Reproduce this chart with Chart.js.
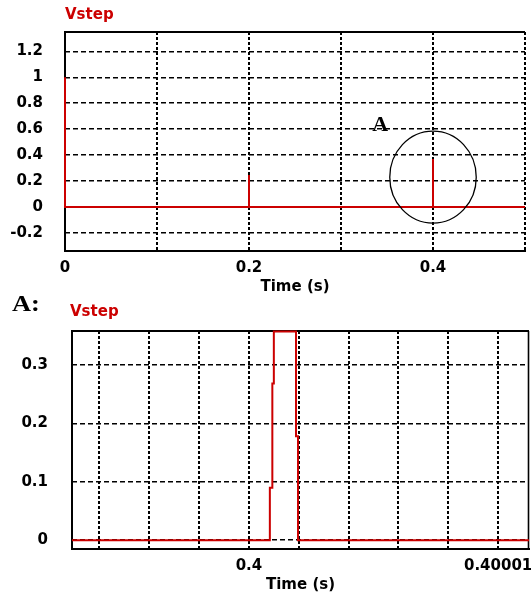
<!DOCTYPE html>
<html><head><meta charset="utf-8">
<script src="https://cdn.jsdelivr.net/npm/chart.js@4/dist/chart.umd.min.js"></script>
<style>
html,body{margin:0;padding:0;background:#fff;width:531px;height:594px;overflow:hidden}
#top{position:absolute;left:0;top:0}
#bot{position:absolute;left:0;top:296px}
</style></head><body>
<canvas id="top" width="531" height="296"></canvas>
<canvas id="bot" width="531" height="298"></canvas>
<script>
// ---- data ----
const seriesName = 'Vstep';
const xTitle = 'Time (s)';

const topTime  = [0, 0, 0.2, 0.2, 0.2, 0.4, 0.4, 0.4, 0.5];
const topVstep = [1, 0, 0, 0.247, 0, 0, 0.37, 0, 0];
const topYTicks  = [-0.2, 0, 0.2, 0.4, 0.6, 0.8, 1, 1.2];
const topYLabels = ['-0.2', '0', '0.2', '0.4', '0.6', '0.8', '1', '1.2'];
const topXTicks  = [0, 0.1, 0.2, 0.3, 0.4, 0.5];
const topXLabels = ['0', '', '0.2', '', '0.4', ''];

const zoomTime  = [0.3999929, 0.40000084, 0.40000084, 0.40000094, 0.40000094, 0.40000100, 0.40000100, 0.40000189, 0.40000189, 0.40000197, 0.40000197, 0.40001124];
const zoomVstep = [0, 0, 0.09, 0.09, 0.268, 0.268, 0.357, 0.357, 0.178, 0.178, 0, 0];
const zoomYTicks  = [0, 0.1, 0.2, 0.3];
const zoomYLabels = ['0', '0.1', '0.2', '0.3'];
const zoomXTicks  = [0.399994, 0.399996, 0.399998, 0.4, 0.400002, 0.400004, 0.400006, 0.400008, 0.40001];
const zoomXLabels = ['', '', '', '0.4', '', '', '', '', '0.40001'];

const calloutText = 'A';
const calloutTextAt = [0.334, 0.585];             // data coords (x, y) of text baseline
const calloutEllipse = [0.4, 0.23, 0.047, 0.355]; // cx, cy, rx, ry in data units
const zoomHeading = 'A:';

// ---- drawing ----
const RED = '#cc0000';
const FONT = {family: '"DejaVu Sans", Verdana, sans-serif', size: 15, weight: 'bold'};

const deco = {
  id: 'deco',
  beforeDatasetsDraw(chart, args, o) {
    const {ctx, chartArea: a} = chart;
    ctx.save();
    ctx.strokeStyle = '#000'; ctx.lineWidth = 2; ctx.setLineDash([]);
    ctx.beginPath();
    ctx.moveTo(Math.round(a.left), Math.round(a.bottom));
    ctx.lineTo(Math.round(a.left), Math.round(a.top));
    ctx.lineTo(a.right, Math.round(a.top));
    ctx.stroke();
    if (o.rightSolid) {
      ctx.lineWidth = 1.6;
      ctx.beginPath();
      ctx.moveTo(Math.round(a.right) - 0.5, a.top); ctx.lineTo(Math.round(a.right) - 0.5, a.bottom);
      ctx.stroke();
    }
    ctx.restore();
  },
  afterDraw(chart, args, o) {
    const {ctx, chartArea: a, scales: {x, y}} = chart;
    ctx.save();
    ctx.fillStyle = RED;
    ctx.font = 'bold 15px "DejaVu Sans", Verdana, sans-serif';
    ctx.textBaseline = 'alphabetic'; ctx.textAlign = 'left';
    ctx.fillText(o.title, a.left + o.titleDx, o.titleY);
    if (o.callout) {
      const [cx, cy, rx, ry] = o.callout.ellipse;
      const px = x.getPixelForValue(cx), py = y.getPixelForValue(cy);
      const prx = x.getPixelForValue(cx + rx) - px, pry = py - y.getPixelForValue(cy + ry);
      ctx.strokeStyle = '#000'; ctx.lineWidth = 1.3;
      ctx.beginPath(); ctx.ellipse(px, py, prx, pry, 0, 0, Math.PI * 2); ctx.stroke();
      ctx.fillStyle = '#000';
      ctx.font = 'bold 22px "Liberation Serif", "Times New Roman", serif';
      ctx.fillText(o.callout.text, x.getPixelForValue(o.callout.at[0]), y.getPixelForValue(o.callout.at[1]));
    }
    if (o.heading) {
      ctx.fillStyle = '#000';
      ctx.font = 'bold 23px "Liberation Serif", "Times New Roman", serif';
      ctx.translate(12, 15);
      ctx.scale(1.15, 1);
      ctx.fillText(o.heading, 0, 0);
    }
    ctx.restore();
  }
};

function makeChart(id, cfg) {
  const pts = cfg.t.map((t, i) => ({x: t, y: cfg.v[i]}));
  return new Chart(document.getElementById(id), {
    type: 'scatter',
    data: {datasets: [{
      label: seriesName, data: pts, showLine: true, borderColor: RED, backgroundColor: RED,
      borderWidth: 2, pointRadius: 0, tension: 0, fill: false, clip: 2
    }]},
    options: {
      responsive: false, animation: false, events: [],
      layout: {padding: {left: 0, right: cfg.padRight, top: cfg.padTop, bottom: 0}},
      plugins: {legend: {display: false}, tooltip: {enabled: false}, deco: cfg.deco},
      scales: {
        x: {
          type: 'linear', min: cfg.xMin, max: cfg.xMax,
          afterBuildTicks: s => { s.ticks = cfg.xTicks.map(v => ({value: v})); },
          afterFit: s => { s.height = 45; s.paddingLeft = 0; s.paddingRight = 0; },
          ticks: {font: FONT, color: '#000', padding: 8, maxRotation: 0, autoSkip: false,
                  callback: (v, i) => cfg.xLabels[i]},
          grid: {color: '#000', lineWidth: 2, drawTicks: false},
          border: {display: true, color: '#000', width: 2, dash: [3, 2]},
          title: {display: true, text: xTitle, font: FONT, color: '#000', padding: {top: 0, bottom: 0}}
        },
        y: {
          type: 'linear', min: cfg.yMin, max: cfg.yMax,
          afterBuildTicks: s => { s.ticks = cfg.yTicks.map(v => ({value: v})); },
          afterFit: s => { s.width = cfg.yWidth; s.paddingTop = 0; s.paddingBottom = 0; },
          ticks: {font: FONT, color: '#000', padding: cfg.yPad, autoSkip: false,
                  callback: (v, i) => cfg.yLabels[i]},
          grid: {color: '#000', lineWidth: 1.6, drawTicks: false},
          border: {display: false, color: '#000', width: 2, dash: [5, 3]}
        }
      }
    },
    plugins: [deco]
  });
}

makeChart('top', {
  t: topTime, v: topVstep, xMin: 0, xMax: 0.5, yMin: -0.34, yMax: 1.35,
  xTicks: topXTicks, xLabels: topXLabels, yTicks: topYTicks, yLabels: topYLabels,
  padRight: 6, padTop: 32, yWidth: 65, yPad: 22,
  deco: {title: seriesName, titleDx: 0, titleY: 19, rightSolid: false,
         callout: {text: calloutText, at: calloutTextAt, ellipse: calloutEllipse}}
});

makeChart('bot', {
  t: zoomTime, v: zoomVstep, xMin: 0.3999929, xMax: 0.40001124, yMin: -0.015, yMax: 0.358,
  xTicks: zoomXTicks, xLabels: zoomXLabels, yTicks: zoomYTicks, yLabels: zoomYLabels,
  padRight: 2, padTop: 35, yWidth: 72, yPad: 24,
  deco: {title: seriesName, titleDx: -2, titleY: 20, rightSolid: true, heading: zoomHeading}
});
</script>
</body></html>
